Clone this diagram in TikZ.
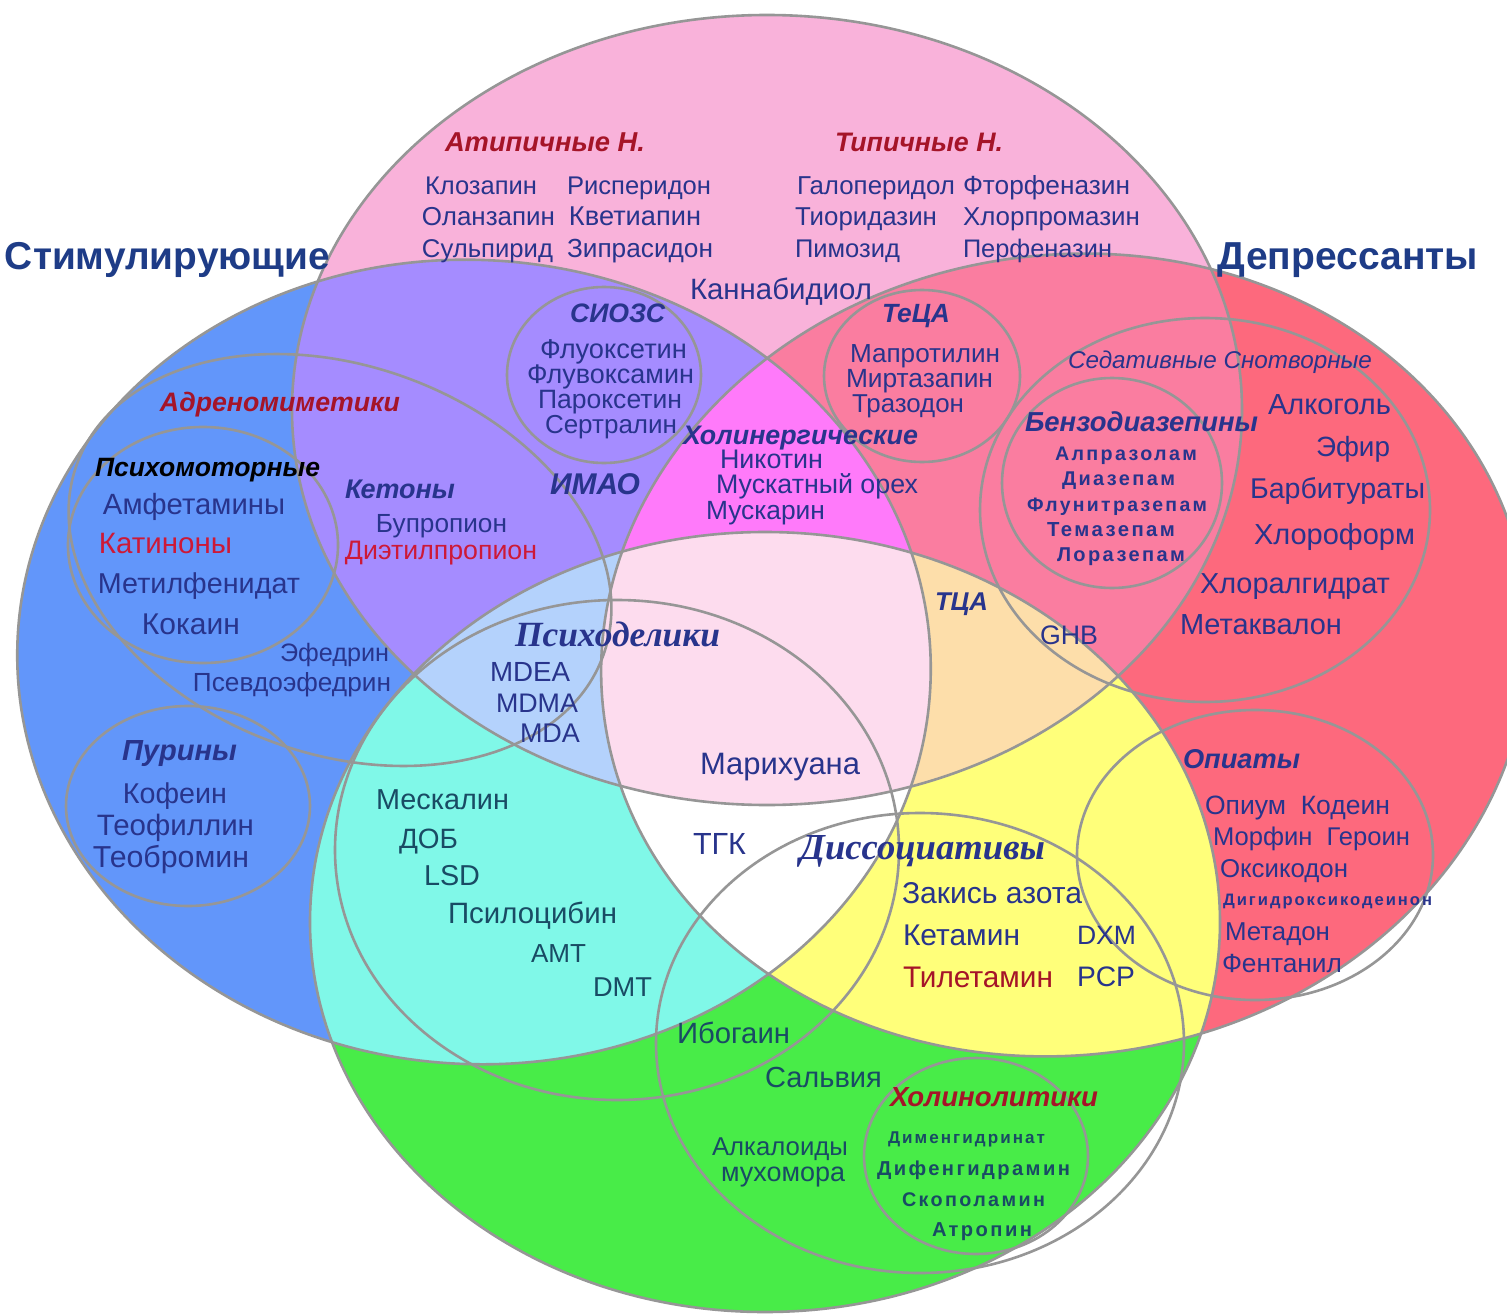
\documentclass[tikz,border=0pt]{standalone}
\usepackage{fontspec}
\usepackage{graphicx}
\setmainfont{Liberation Sans}
\newfontfamily\lserif{Liberation Serif}
\definecolor{cP}{RGB}{249,178,218}
\definecolor{cB}{RGB}{98,150,250}
\definecolor{cR}{RGB}{253,105,125}
\definecolor{cG}{RGB}{72,236,72}
\definecolor{cPB}{RGB}{165,140,255}
\definecolor{cPR}{RGB}{250,125,160}
\definecolor{cBG}{RGB}{128,248,232}
\definecolor{cRG}{RGB}{255,255,122}
\definecolor{cPBR}{RGB}{255,122,250}
\definecolor{cPBG}{RGB}{180,210,252}
\definecolor{cPRG}{RGB}{253,222,170}
\definecolor{cAll}{RGB}{253,220,238}
\definecolor{crim}{RGB}{150,150,150}
\definecolor{ctxt}{RGB}{40,52,140}
\definecolor{cteal}{RGB}{25,75,100}
\definecolor{cbrick}{RGB}{165,20,40}
\definecolor{cred}{RGB}{205,25,55}
\definecolor{cttl}{RGB}{30,60,135}
\def\shP{(767,410) ellipse [x radius=475pt, y radius=395pt]}
\def\shB{(474,662) ellipse [x radius=457pt, y radius=402pt, rotate=-4]}
\def\shR{(1065,655) ellipse [x radius=465pt, y radius=400pt, rotate=8]}
\def\shG{(765,922) ellipse [x radius=455pt, y radius=390pt]}
\tikzset{
  every node/.style={inner sep=0pt, outer sep=0pt},
  rim/.style={draw=crim, line width=2.6pt},
  tx/.style={font=\fontsize{20}{24}\selectfont, text=ctxt},
  txt/.style={tx, text=cteal},
  txr/.style={tx, text=cred},
  txb/.style={tx, text=cbrick},
  hd/.style={font=\fontsize{20}{24}\selectfont\bfseries\itshape, text=ctxt},
  hdk/.style={hd, text=black},
  hdr/.style={hd, text=cbrick},
  hds/.style={font=\fontsize{20}{24}\selectfont\lserif\bfseries\itshape, text=ctxt},
  ttl/.style={font=\fontsize{20}{24}\selectfont\bfseries, text=cttl},
  sp/.style={font=\fontsize{20}{24}\selectfont\bfseries\addfontfeature{LetterSpace=12}, text=ctxt},
  spt/.style={sp, text=cteal},
  itl/.style={font=\fontsize{20}{24}\selectfont\itshape, text=ctxt},
}
\newcommand\lab[6]{\node[#1] (#2) at (#3,#4) {\resizebox{#5pt}{!}{\strut #6}};}
\begin{document}
\begin{tikzpicture}[x=1pt,y=-1pt]
\useasboundingbox (0,0) rectangle (1507,1316);
\fill[white] (0,0) rectangle (1507,1316);
\clip (0,0) rectangle (1507,1316);
% base fills
\fill[cP] \shP; \fill[cB] \shB; \fill[cR] \shR; \fill[cG] \shG;
\begin{scope}\clip \shP; \fill[cPB] \shB; \fill[cPR] \shR; \end{scope}
\begin{scope}\clip \shG; \fill[cBG] \shB; \fill[cRG] \shR; \end{scope}
\begin{scope}\clip \shP; \clip \shB; \fill[cPBR] \shR; \fill[cPBG] \shG; \end{scope}
\begin{scope}\clip \shP; \clip \shR; \fill[cPRG] \shG; \end{scope}
\begin{scope}\clip \shB; \clip \shR; \fill[white] \shG; \end{scope}
\begin{scope}\clip \shP; \clip \shB; \clip \shR; \fill[cAll] \shG; \end{scope}
% outlines
\draw[rim] \shP; \draw[rim] \shB; \draw[rim] \shR; \draw[rim] \shG;
\draw[rim] (604,375) ellipse [x radius=97pt, y radius=88pt];
\draw[rim] (922,376) ellipse [x radius=98pt, y radius=86pt];
\draw[rim] (340,560) ellipse [x radius=280pt, y radius=194pt, rotate=-20];
\draw[rim] (203,545) ellipse [x radius=135pt, y radius=118pt];
\draw[rim] (188,806) ellipse [x radius=122pt, y radius=100pt];
\draw[rim] (617,850) ellipse [x radius=282pt, y radius=250pt];
\draw[rim] (920,1043) ellipse [x radius=264pt, y radius=230pt];
\draw[rim] (976,1156) ellipse [x radius=112pt, y radius=98pt];
\draw[rim] (1205,510) ellipse [x radius=225pt, y radius=192pt];
\draw[rim] (1112,483) ellipse [x radius=110pt, y radius=105pt];
\draw[rim] (1255,855) ellipse [x radius=178pt, y radius=145pt];
% titles
\lab{ttl}{stim}{167.5}{260}{325}{Стимулирующие}
\lab{ttl}{depr}{1348}{260}{260}{Депрессанты}
% antipsychotics
\lab{hdr}{atyp}{545}{145}{200}{Атипичные Н.}
\lab{hdr}{typ}{919}{145}{168}{Типичные Н.}
\lab{tx}{kloz}{481}{188}{112}{Клозапин}
\lab{tx}{risp}{639}{188}{144}{Рисперидон}
\lab{tx}{olan}{488.5}{219}{133}{Оланзапин}
\lab{tx}{kvet}{635}{219}{132}{Кветиапин}
\lab{tx}{sulp}{487.5}{251}{131}{Сульпирид}
\lab{tx}{zipr}{640}{251}{146}{Зипрасидон}
\lab{tx}{galo}{876}{188}{158}{Галоперидол}
\lab{tx}{ftor}{1046.5}{188}{167}{Фторфеназин}
\lab{tx}{tior}{866}{219}{142}{Тиоридазин}
\lab{tx}{hlor}{1051.5}{219}{177}{Хлорпромазин}
\lab{tx}{pimo}{847.5}{251}{105}{Пимозид}
\lab{tx}{perf}{1037.5}{251}{149}{Перфеназин}
\lab{tx}{cann}{781}{292}{182}{Каннабидиол}
% SSRI
\lab{hd}{ssri}{617.5}{316}{95}{СИОЗС}
\lab{tx}{fluo}{613.5}{352}{147}{Флуоксетин}
\lab{tx}{fluv}{610.5}{377}{167}{Флувоксамин}
\lab{tx}{paro}{610}{402}{144}{Пароксетин}
\lab{tx}{sert}{611}{427}{132}{Сертралин}
% TeCA
\lab{hd}{teca}{916}{316}{68}{ТеЦА}
\lab{tx}{mapr}{925}{356}{150}{Мапротилин}
\lab{tx}{mirt}{919.5}{381}{147}{Миртазапин}
\lab{tx}{traz}{908}{406}{112}{Тразодон}
% cholinergic
\lab{hd}{holi}{800.5}{438}{235}{Холинергические}
\lab{tx}{niko}{771.5}{462}{103}{Никотин}
\lab{tx}{musk}{817}{487}{202}{Мускатный орех}
\lab{tx}{muska}{765.5}{513}{119}{Мускарин}
% stimulants
\lab{hdr}{adre}{280}{405}{240}{Адреномиметики}
\lab{hdk}{psmo}{207.5}{470}{225}{Психомоторные}
\lab{tx}{amph}{194}{507}{182}{Амфетамины}
\lab{txr}{kati}{165.5}{546}{133}{Катиноны}
\lab{tx}{metf}{199}{587}{202}{Метилфенидат}
\lab{tx}{koka}{191}{627}{98}{Кокаин}
\lab{hd}{keto}{400}{492}{110}{Кетоны}
\lab{tx}{bupr}{441.5}{526}{131}{Бупропион}
\lab{txr}{diet}{441}{553}{192}{Диэтилпропион}
\lab{hd}{imao}{595}{487}{90}{ИМАО}
\lab{tx}{efed}{334.5}{655}{109}{Эфедрин}
\lab{tx}{psef}{292}{685}{198}{Псевдоэфедрин}
\lab{hd}{puri}{179.5}{754}{115}{Пурины}
\lab{tx}{kofe}{175}{797}{104}{Кофеин}
\lab{tx}{teof}{175.5}{828}{157}{Теофиллин}
\lab{tx}{teob}{171}{860}{156}{Теобромин}
% psychedelics
\lab{hds}{psyd}{617.5}{638}{205}{Психоделики}
\lab{tx}{mdea}{530}{675}{80}{MDEA}
\lab{tx}{mdma}{537}{706}{82}{MDMA}
\lab{tx}{mda}{550}{736}{60}{MDA}
\lab{tx}{mari}{780}{767}{160}{Марихуана}
\lab{txt}{mesk}{442.5}{803}{133}{Мескалин}
\lab{txt}{dob}{428.5}{842}{59}{ДОБ}
\lab{txt}{lsd}{452}{879}{56}{LSD}
\lab{txt}{psil}{532.5}{916}{169}{Псилоцибин}
\lab{txt}{amt}{558.5}{956}{55}{АМТ}
\lab{txt}{dmt}{622.5}{990}{59}{DMT}
\lab{tx}{tgk}{719.5}{847}{53}{ТГК}
% dissociatives
\lab{hds}{diss}{922.5}{851}{245}{Диссоциативы}
\lab{tx}{zaki}{992}{896}{180}{Закись азота}
\lab{tx}{keta}{961.5}{938}{117}{Кетамин}
\lab{tx}{dxm}{1106.5}{938}{59}{DXM}
\lab{txb}{tile}{978}{980}{150}{Тилетамин}
\lab{tx}{pcp}{1106}{980}{58}{PCP}
\lab{hd}{tca}{961.5}{604}{53}{ТЦА}
\lab{tx}{ghb}{1069}{638}{58}{GHB}
% deliriants
\lab{txt}{ibog}{733.5}{1036}{113}{Ибогаин}
\lab{txt}{salv}{823.5}{1081}{117}{Сальвия}
\lab{txt}{alka}{780}{1149}{136}{Алкалоиды}
\lab{txt}{muho}{783}{1175}{124}{мухомора}
\lab{hdr}{holl}{994}{1100}{208}{Холинолитики}
\lab{spt}{dime}{966.5}{1139}{157}{Дименгидринат}
\lab{spt}{dife}{973.5}{1171}{193}{Дифенгидрамин}
\lab{spt}{skop}{973.5}{1202}{143}{Скополамин}
\lab{spt}{atro}{982}{1232}{100}{Атропин}
% sedatives
\lab{itl}{seda}{1220}{363}{304}{Седативные Снотворные}
\lab{hd}{benz}{1141.5}{425}{233}{Бензодиазепины}
\lab{sp}{alpr}{1126}{456}{142}{Алпразолам}
\lab{sp}{diaz}{1118.5}{481}{113}{Диазепам}
\lab{sp}{flun}{1117}{507}{180}{Флунитразепам}
\lab{sp}{tema}{1111}{532}{128}{Темазепам}
\lab{sp}{lora}{1121}{557}{128}{Лоразепам}
\lab{tx}{alko}{1329.5}{408}{123}{Алкоголь}
\lab{tx}{efir}{1353}{450}{74}{Эфир}
\lab{tx}{barb}{1337.5}{492}{175}{Барбитураты}
\lab{tx}{hlrf}{1334.5}{538}{161}{Хлороформ}
\lab{tx}{hlrg}{1295}{587}{190}{Хлоралгидрат}
\lab{tx}{metk}{1261}{628}{162}{Метаквалон}
% opiates
\lab{hd}{opia}{1241.5}{762}{117}{Опиаты}
\lab{tx}{opiu}{1297.5}{808}{185}{Опиум\ \ Кодеин}
\lab{tx}{morf}{1311.5}{839}{197}{Морфин\ \ Героин}
\lab{tx}{oksi}{1284}{871}{128}{Оксикодон}
\lab{sp}{digi}{1327.5}{902}{209}{Дигидроксикодеинон}
\lab{tx}{meta}{1277.5}{934}{105}{Метадон}
\lab{tx}{fent}{1282}{966}{120}{Фентанил}
\end{tikzpicture}
\end{document}
